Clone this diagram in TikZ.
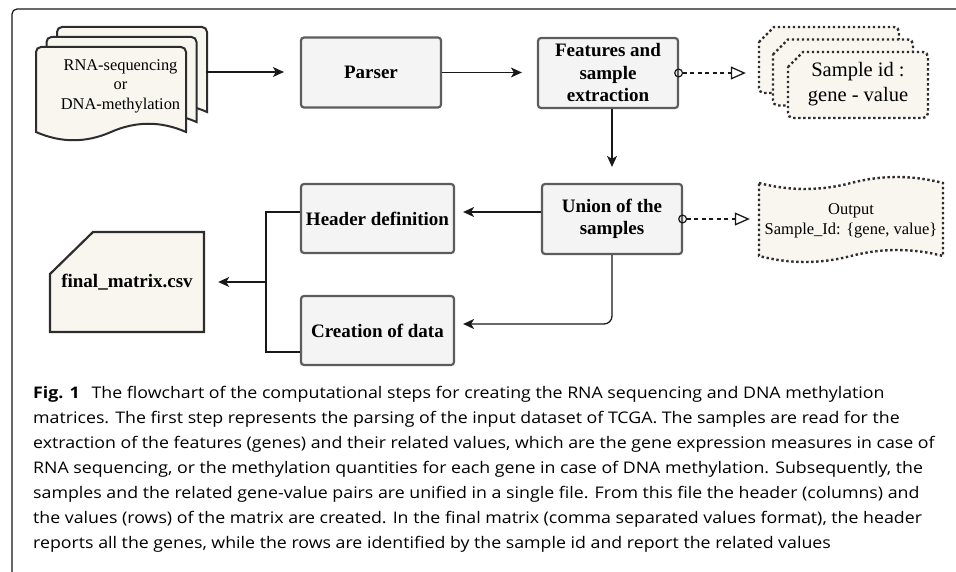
\documentclass[tikz,border=0pt]{standalone}
\usepackage{fontspec}
\setmainfont{Liberation Serif}
\newfontfamily\capfont[FakeStretch=1.11]{Open Sans}
\usetikzlibrary{arrows.meta}
\definecolor{boxfill}{RGB}{244,244,244}
\definecolor{boxdraw}{RGB}{92,92,92}
\definecolor{docfill}{RGB}{248,246,239}
\definecolor{docdraw}{RGB}{45,45,45}
\definecolor{linec}{RGB}{25,25,25}
\newcommand\mydocshape[2]{%
  \filldraw[docst] (#1+75,#2+85) .. controls (#1+50,#2+96) and (#1+25,#2+96) .. (#1,#2+85)
    -- (#1,#2+5) arc(180:270:5) -- (#1+145,#2) arc(270:360:5)
    -- (#1+150,#2+85) .. controls (#1+125,#2+74) and (#1+100,#2+74) .. (#1+75,#2+85) -- cycle;}
\newcommand\mycard[2]{%
  \filldraw[dotst] (#1,#2+15) -- (#1+15,#2) -- (#1+135,#2) arc(270:360:5)
    -- (#1+140,#2+61) arc(0:90:5) -- (#1+5,#2+66) arc(90:180:5) -- cycle;}
\tikzset{
  proc/.style={draw=boxdraw, fill=boxfill, line width=2.2pt, rounded corners=3pt,
    font=\fontsize{19}{22.5}\selectfont\bfseries, align=center, inner sep=0pt,
    minimum width=140pt, minimum height=70pt},
  docst/.style={draw=docdraw, fill=docfill, line width=2pt},
  dotst/.style={draw=docdraw, fill=docfill, line width=2.4pt, dash pattern=on 2.4pt off 2.6pt},
  conn/.style={draw=linec, line width=1.3pt},
  arr/.style={conn, -{Stealth[length=11pt,width=10pt,inset=3pt]}},
  dasharr/.style={conn, dash pattern=on 4pt off 3.5pt,
    {Circle[open,length=9pt,width=9pt,line width=1.2pt]}-{Triangle[open,length=15pt,width=13pt,line width=1.3pt]}},
  capline/.style={anchor=base west, inner sep=0pt, font=\capfont\fontsize{16}{25}\selectfont},
  ghost/.style={inner sep=0pt, align=center}
}
\begin{document}
\begin{tikzpicture}[x=1pt,y=-1pt]
\useasboundingbox (0,0) rectangle (956,572);
% frame
\draw[line width=1.2pt, draw=linec, rounded corners=5pt] (957,9) -- (12,9) -- (12,573);

% document stack
\mydocshape{57}{27}
\mydocshape{46.5}{37}
\mydocshape{36}{47}
\node[ghost, font=\fontsize{16.4}{19.6}\selectfont] (docs) at (120.5,86) {RNA-sequencing\\or\\DNA-methylation};
\coordinate (docR) at (206,72);

% process boxes
\node[proc] (parser) at (371,72.5) {Parser};
\node[proc] (feat) at (608,73) {Features and\\sample\\extraction};
\node[proc] (union) at (612,219) {Union of the\\samples};
\node[proc, minimum width=153pt, minimum height=69pt] (header) at (377.5,218.5) {Header definition};
\node[proc, minimum width=153pt, minimum height=69pt] (creation) at (377.5,330.5) {Creation of data};

% sample cards
\mycard{759}{27}
\mycard{773}{39.5}
\mycard{788}{52}
\node[ghost, minimum width=140pt, minimum height=66pt] (sback) at (829,60) {};
\node[ghost, font=\fontsize{20.5}{25}\selectfont] (sfront) at (858,84) {Sample id :\\gene - value};

% output tape
\filldraw[dotst] (759,183) .. controls (789.7,191) and (820.3,191) .. (851,183)
  .. controls (881.7,175) and (912.3,175) .. (943,183) -- (943,256)
  .. controls (912.3,248) and (881.7,248) .. (851,256)
  .. controls (820.3,264) and (789.7,264) .. (759,256) -- cycle;
\node[ghost, minimum width=184pt, minimum height=73pt, font=\fontsize{16.5}{20}\selectfont] (outn) at (851,220.5) {Output\\Sample\_Id: \{gene, value\}};

% final matrix
\filldraw[docst, line width=2.2pt] (50,274) -- (93,232) -- (204,232) -- (204,332) -- (50,332) -- cycle;
\node[ghost, minimum width=154pt, minimum height=100pt, font=\fontsize{19}{22.5}\selectfont\bfseries] (fm) at (127,282) {final\_matrix.csv};

% connectors
\draw[arr, shorten >=16pt] (docR) -- (docR -| parser.west);
\draw[arr, shorten >=15pt] (parser.east) -- (parser.east -| feat.west);
\draw[arr, shorten >=16pt] (feat.south -| union.north) -- (union.north);
\draw[dasharr, shorten >=13pt] ([xshift=-5pt]feat.east) -- (feat.east -| sback.west);
\draw[dasharr, shorten >=9pt] ([xshift=-5pt]union.east) -- (union.east -| outn.west);
\draw[arr, shorten >=8pt] ([yshift=7pt]union.west) -- ([yshift=7pt]union.west -| header.east);
\draw[arr, rounded corners=8pt, shorten >=8pt] (union.south) |- ([yshift=6.5pt]creation.east);
\coordinate (brk) at (266,282);
\draw[conn] ([yshift=6.5pt]header.west) -- ([yshift=6.5pt]header.west -| brk) -- ([yshift=-21.5pt]creation.west -| brk) -- ([yshift=-21.5pt]creation.west);
\draw[arr, shorten >=14pt] (brk) -- (fm.east);

% caption
\node[capline] (c1) at (33,398) {\textbf{Fig. 1}\hspace{0.45em} The flowchart of the computational steps for creating the RNA sequencing and DNA methylation};
\node[capline] (c2) at (33,423) {matrices. The first step represents the parsing of the input dataset of TCGA. The samples are read for the};
\node[capline] (c3) at (33,448) {extraction of the features (genes) and their related values, which are the gene expression measures in case of};
\node[capline] (c4) at (33,473) {RNA sequencing, or the methylation quantities for each gene in case of DNA methylation. Subsequently, the};
\node[capline] (c5) at (33,498) {samples and the related gene-value pairs are unified in a single file. From this file the header (columns) and};
\node[capline] (c6) at (33,523) {the values (rows) of the matrix are created. In the final matrix (comma separated values format), the header};
\node[capline] (c7) at (33,548) {reports all the genes, while the rows are identified by the sample id and report the related values};
\end{tikzpicture}
\end{document}
